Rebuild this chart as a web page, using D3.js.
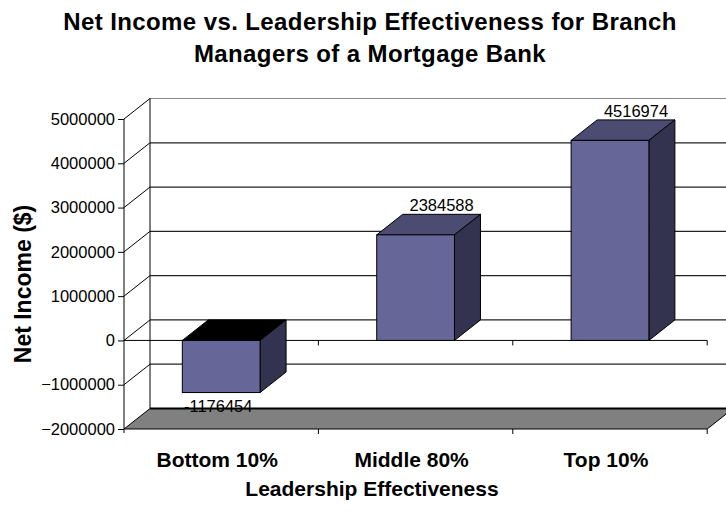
<!DOCTYPE html>
<html>
<head>
<meta charset="utf-8">
<script src="https://cdn.jsdelivr.net/npm/d3@7"></script>
<style>
    body { margin: 0; background: #fff; }
    svg { display: block; font-family: Arial, "Liberation Sans", sans-serif; }
</style>
</head>
<body>
<div id="chart"><svg></svg></div>
<script>
var categories = ["Bottom 10%", "Middle 80%", "Top 10%"];
var netIncome = [-1176454, 2384588, 4516974];
var yTicks = [-2000000, -1000000, 0, 1000000, 2000000, 3000000, 4000000, 5000000];
var titleLines = ["Net Income vs. Leadership Effectiveness for Branch", "Managers of a Mortgage Bank"];

var chart = function(d3) {

    var width = 726;
    var height = 512;
    var depthX = 26;
    var depthY = -20.5;

    var x = d3.scaleBand()
        .domain(categories)
        .range([124, 707.2])
        .paddingInner(0.6)
        .paddingOuter(0.3);

    var y = d3.scaleLinear()
        .domain([-2000000, 5000000])
        .range([429, 119]);

    var x0 = x.range()[0];
    var x1 = x.range()[1];

    function pts(list) {
        return list.map(function(p) { return p.join(","); }).join(" ");
    }

    function draw() {
        var svg = d3.select("#chart svg")
            .attr("width", width)
            .attr("height", height);

        // back wall gridlines
        svg.selectAll(".grid")
            .data(yTicks.slice(1))
            .enter()
            .append("line")
            .attr("x1", x0 + depthX)
            .attr("x2", x1 + depthX)
            .attr("y1", function(d) { return y(d) + depthY; })
            .attr("y2", function(d) { return y(d) + depthY; })
            .attr("stroke", function(d) { return d === 5000000 ? "#888" : "#222"; })
            .attr("stroke-width", 1.2);

        // left side wall
        svg.append("line")
            .attr("x1", x0 + depthX).attr("x2", x0 + depthX)
            .attr("y1", y(5000000) + depthY).attr("y2", y(-2000000) + depthY)
            .attr("stroke", "#000");

        svg.selectAll(".side")
            .data(yTicks.slice(1))
            .enter()
            .append("line")
            .attr("x1", x0)
            .attr("x2", x0 + depthX)
            .attr("y1", function(d) { return y(d); })
            .attr("y2", function(d) { return y(d) + depthY; })
            .attr("stroke", "#000");

        // floor
        var yf = y(-2000000);
        svg.append("polygon")
            .attr("points", pts([[x0, yf], [x1, yf], [x1 + depthX, yf + depthY], [x0 + depthX, yf + depthY]]))
            .attr("fill", "#808080")
            .attr("stroke", "#000");
        svg.append("line")
            .attr("x1", x0 + depthX).attr("x2", x1 + depthX)
            .attr("y1", yf + depthY).attr("y2", yf + depthY)
            .attr("stroke", "#000").attr("stroke-width", 2);

        // zero plane front edge
        svg.append("line")
            .attr("x1", x0).attr("x2", x1)
            .attr("y1", y(0)).attr("y2", y(0))
            .attr("stroke", "#000");

        var bounds = x.domain().map(function(d, i) { return x0 + i * x.step(); }).slice(1).concat([x1]);
        [y(0), yf].forEach(function(yy) {
            svg.selectAll(null)
                .data(bounds)
                .enter()
                .append("line")
                .attr("x1", function(d) { return d; })
                .attr("x2", function(d) { return d; })
                .attr("y1", yy)
                .attr("y2", yy + 5)
                .attr("stroke", "#000");
        });

        // y axis
        var axis = svg.append("g")
            .attr("transform", "translate(" + x0 + ",0)")
            .call(d3.axisLeft(y).tickValues(yTicks).tickFormat(d3.format("d")).tickSize(6).tickPadding(3));
        axis.select(".domain").attr("stroke", "#000").attr("d", "M0," + y(5000000) + "V" + (yf + 4));
        axis.selectAll(".tick line").attr("stroke", "#000");
        axis.selectAll("text")
            .attr("font-size", 16.5)
            .attr("font-family", "Arial, 'Liberation Sans', sans-serif")
            .attr("fill", "#000");

        // bars
        var bars = svg.selectAll(".bar")
            .data(categories.map(function(c, i) { return { name: c, value: netIncome[i] }; }))
            .enter()
            .append("g")
            .attr("class", "bar");

        bars.each(function(d) {
            var g = d3.select(this);
            var l = x(d.name);
            var r = l + x.bandwidth();
            var top = Math.min(y(d.value), y(0));
            var bot = Math.max(y(d.value), y(0));

            g.append("polygon")
                .attr("points", pts([[l, top], [r, top], [r + depthX, top + depthY], [l + depthX, top + depthY]]))
                .attr("fill", d.value < 0 ? "#000" : "#4c4c72")
                .attr("stroke", "#000");
            g.append("polygon")
                .attr("points", pts([[r, top], [r + depthX, top + depthY], [r + depthX, bot + depthY], [r, bot]]))
                .attr("fill", "#33334f")
                .attr("stroke", "#000");
            g.append("rect")
                .attr("x", l)
                .attr("y", top)
                .attr("width", x.bandwidth())
                .attr("height", bot - top)
                .attr("fill", "#666699")
                .attr("stroke", "#000");
        });

        // value labels
        svg.selectAll(".val")
            .data(netIncome)
            .enter()
            .append("text")
            .attr("x", function(d, i) { return x(categories[i]) + x.bandwidth() / 2 + (d < 0 ? -3 : depthX); })
            .attr("y", function(d) { return d < 0 ? y(d) + 19 : y(d) + depthY - 3; })
            .attr("text-anchor", "middle")
            .attr("font-size", 16.5)
            .text(function(d) { return d; });

        // category labels
        svg.selectAll(".cat")
            .data(categories)
            .enter()
            .append("text")
            .attr("x", function(d) { return x(d) + x.bandwidth() / 2 - 4; })
            .attr("y", 467)
            .attr("text-anchor", "middle")
            .attr("font-size", 21)
            .attr("font-weight", "bold")
            .text(function(d) { return d; });

        svg.append("text")
            .attr("x", 372)
            .attr("y", 496)
            .attr("text-anchor", "middle")
            .attr("font-size", 21)
            .attr("font-weight", "bold")
            .text("Leadership Effectiveness");

        svg.append("text")
            .attr("transform", "translate(31,284) rotate(-90)")
            .attr("text-anchor", "middle")
            .attr("font-size", 23)
            .attr("font-weight", "bold")
            .text("Net Income ($)");

        svg.selectAll(".title")
            .data(titleLines)
            .enter()
            .append("text")
            .attr("x", 370)
            .attr("y", function(d, i) { return 30 + i * 32; })
            .attr("text-anchor", "middle")
            .attr("font-size", 24)
            .attr("font-weight", "bold")
            .attr("letter-spacing", 0.4)
            .text(function(d) { return d; });
    }

    return {
        show: function() {
            draw();
        }
    };
}(d3);

chart.show();
</script>
</body>
</html>
